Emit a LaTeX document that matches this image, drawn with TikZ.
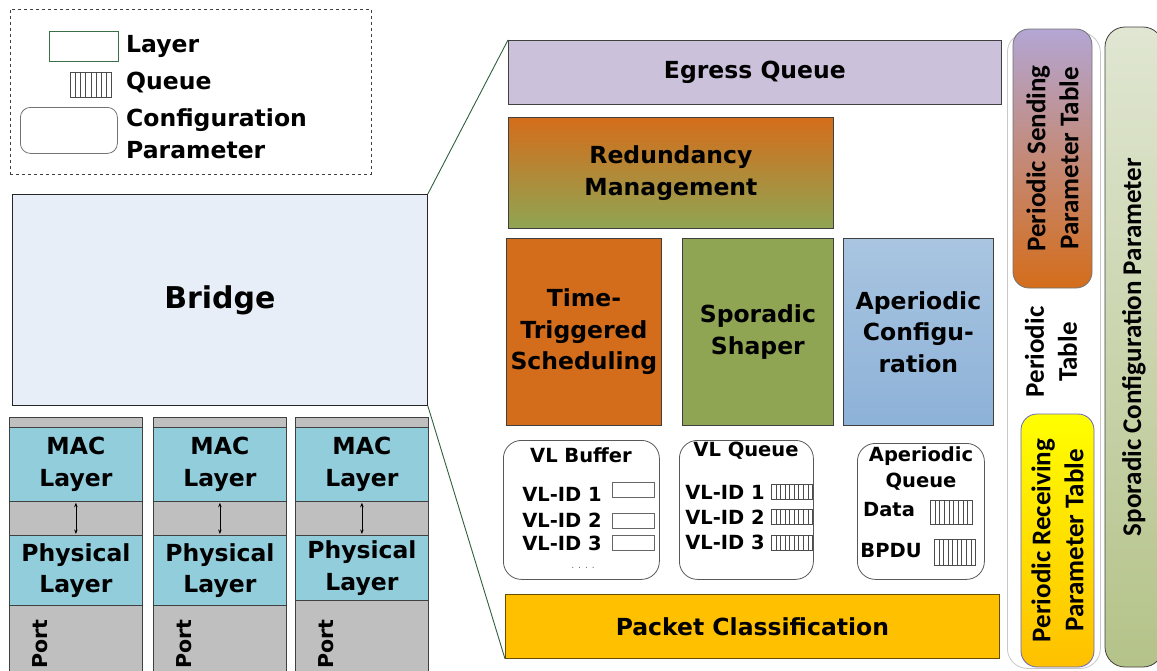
\documentclass[tikz,border=0pt]{standalone}
\usepackage{fontspec}
\setmainfont{DejaVu Sans}
\newfontfamily\calfont{Carlito}
\usetikzlibrary{calc,arrows.meta}

\definecolor{edgegray}{HTML}{404040}
\definecolor{bridgeblue}{HTML}{E7EEF8}
\definecolor{legendgreen}{HTML}{3C6E47}
\definecolor{cellgray}{HTML}{BFBFBF}
\definecolor{maccyan}{HTML}{92CDDC}
\definecolor{egresslav}{HTML}{CCC1DA}
\definecolor{ttorange}{HTML}{D46D1B}
\definecolor{olive}{HTML}{8FA553}
\definecolor{apblue1}{HTML}{A9C5E0}
\definecolor{apblue2}{HTML}{8DB2D8}
\definecolor{pktyellow}{HTML}{FFC000}
\definecolor{sendlav}{HTML}{B3A6D4}
\definecolor{spor1}{HTML}{E0E6D2}
\definecolor{spor2}{HTML}{B4C389}
\definecolor{connectgreen}{HTML}{2F5F3F}
\definecolor{framegray}{HTML}{C8C8C8}

\newcommand\bigtxt{\bfseries\fontsize{23.5}{31.5}\selectfont}
\newcommand\lgtxtfont{\bfseries\fontsize{23.5}{32}\selectfont}
\newcommand\smalltxt{\bfseries\fontsize{19.5}{26}\selectfont}
\newcommand\vtxtfont{\calfont\bfseries\fontsize{27}{33}\selectfont}

\begin{document}
\begin{tikzpicture}[x=1pt,y=-1pt,
  blk/.style={draw=edgegray, line width=0.8pt, anchor=north west, inner sep=0pt,
    align=center, font=\bigtxt},
  cell/.style={blk, minimum width=133},
  cfgbox/.style={draw=black!65, line width=0.8pt, fill=white, rounded corners=18,
    anchor=north west, inner sep=0pt},
  lgtxt/.style={font=\lgtxtfont, inner sep=0pt, anchor=west, align=left},
  stxt/.style={font=\smalltxt, inner sep=0pt, align=center},
  bufrect/.style={draw=black!60, line width=0.6pt, fill=white, anchor=north west,
    inner sep=0pt, minimum width=42, minimum height=15},
  qicon/.style={draw=black!70, line width=0.6pt, fill=white, anchor=north west, inner sep=0pt,
    path picture={\foreach \k in {1,...,#1}{
      \draw[black!70, line width=0.5pt]
        ($(path picture bounding box.north west)!{\k/(#1+1)}!(path picture bounding box.north east)$) --
        ($(path picture bounding box.south west)!{\k/(#1+1)}!(path picture bounding box.south east)$);}}},
  vtab/.style={draw=edgegray, line width=0.8pt, rounded corners=16, rotate=90,
    inner sep=0pt, align=center, font=\vtxtfont},
  conn/.style={draw=connectgreen, line width=0.9pt},
  updown/.style={<->, >={Stealth[length=4.5pt,width=3.5pt]}, line width=0.7pt, shorten <=1pt, shorten >=1pt}
]
\useasboundingbox (0,0) rectangle (1157,670);

% ---------- legend ----------
\node[draw=black!75, dashed, line width=0.7pt, anchor=north west, inner sep=0pt,
  minimum width=361, minimum height=165] (legend) at (10,9) {};
\node[draw=legendgreen, fill=white, line width=0.8pt, anchor=north west, inner sep=0pt,
  minimum width=69, minimum height=30] (lglayer) at (49,31) {};
\node[lgtxt] (lglayertxt) at (126,46) {Layer};
\node[qicon=7, minimum width=41, minimum height=25] (lgqueue) at (70,72) {};
\node[lgtxt] (lgqueuetxt) at (126,82) {Queue};
\node[cfgbox, draw=black!55, rounded corners=10, minimum width=97, minimum height=46] (lgconf) at (20,107) {};
\node[lgtxt] (lgconftxt) at (126,134) {Configuration\\Parameter};

% ---------- bridge and its ports ----------
\node[blk, draw=black!85, fill=bridgeblue, minimum width=415, minimum height=211,
  font=\bfseries\fontsize{30}{36}\selectfont] (bridge) at (12,194) {Bridge};

\foreach \i/\x/\ph in {1/9/70, 2/153/70, 3/295/65}{
  \node[cell, fill=cellgray, minimum height=10] (strip\i) at (\x,417) {};
  \node[cell, fill=maccyan, minimum height=74] (mac\i) at (\x,427) {MAC\\Layer};
  \node[cell, fill=cellgray, minimum height=34] (gap\i) at (\x,501) {};
  \node[cell, fill=maccyan, minimum height=\ph] (phy\i) at (\x,535) {Physical\\Layer};
  \node[cell, fill=cellgray, minimum height=80, anchor=north] (port\i) at ({\x+66.5},{535+\ph}) {};
  \node[rotate=90, font=\bfseries\fontsize{20.5}{24}\selectfont, inner sep=0pt] (porttxt\i) at ({\x+31},644) {Port};
  \draw[updown] (mac\i.south) -- (phy\i.north);
}

% ---------- bridge internals ----------
\node[blk, fill=egresslav, minimum width=493, minimum height=64] (egress) at (508,40) {Egress Queue};
\node[blk, top color=ttorange, bottom color=olive, minimum width=325, minimum height=111]
  (redund) at (508,117) {Redundancy\\Management};
\node[blk, fill=ttorange, minimum width=155, minimum height=187] (tts) at (506,238)
  {Time-\\Triggered\\Scheduling};
\node[blk, fill=olive, minimum width=151, minimum height=187] (shaper) at (682,238)
  {Sporadic\\Shaper};
\node[blk, top color=apblue1, bottom color=apblue2, minimum width=150, minimum height=187]
  (apconf) at (843,238) {Aperiodic\\Configu-\\ration};

% VL buffer
\node[cfgbox, minimum width=156, minimum height=139] (vlbuf) at (503,440) {};
\node[stxt] (vlbuftxt) at (581,455) {VL Buffer};
\node[stxt] (bid1) at (562,494) {VL-ID 1};
\node[stxt] (bid2) at (562,520) {VL-ID 2};
\node[stxt] (bid3) at (562,543) {VL-ID 3};
\node[bufrect] (buf1) at (612,482) {};
\node[bufrect] (buf2) at (612,513) {};
\node[bufrect] (buf3) at (612,535) {};
\node[font=\fontsize{9}{9}\selectfont, text=black!60, inner sep=0pt] (bufdots) at (583,568) {.\hspace{4pt}.\hspace{4pt}.\hspace{4pt}.};

% VL queue
\node[cfgbox, minimum width=134, minimum height=139] (vlq) at (679,440) {};
\node[stxt] (vlqtxt) at (746,451) {VL Queue};
\node[stxt] (qid1) at (725,492) {VL-ID 1};
\node[stxt] (qid2) at (725,517) {VL-ID 2};
\node[stxt] (qid3) at (725,542) {VL-ID 3};
\node[qicon=8, minimum width=41, minimum height=15] (vq1) at (771,484) {};
\node[qicon=8, minimum width=41, minimum height=15] (vq2) at (771,509) {};
\node[qicon=8, minimum width=41, minimum height=15] (vq3) at (771,535) {};

% aperiodic queue
\node[cfgbox, minimum width=127, minimum height=136] (apq) at (857,443) {};
\node[stxt] (apqtxt) at (921,469) {Aperiodic\\Queue};
\node[stxt] (datatxt) at (889,510) {Data};
\node[qicon=8, minimum width=42, minimum height=24] (dataq) at (930,500) {};
\node[stxt] (bpdutxt) at (891,551) {BPDU};
\node[qicon=8, minimum width=41, minimum height=26] (bpduq) at (934,539) {};

\node[blk, draw=black!60!pktyellow, fill=pktyellow, minimum width=494, minimum height=64]
  (packet) at (505,594) {Packet Classification};

% ---------- zoom connectors ----------
\draw[conn] (bridge.north east) -- (egress.north west);
\draw[conn] (bridge.south east) -- (packet.south west);

% ---------- parameter tables ----------
\node[draw=framegray, line width=0.8pt, fill=white, rounded corners=20, anchor=north west,
  inner sep=0pt, minimum width=93, minimum height=636] (ptframe) at (1007,32) {};
\node[vtab, draw=black!55, top color=sendlav, bottom color=ttorange,
  minimum width=259, minimum height=79] (sendtab) at (1052.5,158.5)
  {Periodic Sending\\Parameter Table};
\node[rotate=90, font=\vtxtfont, align=center, inner sep=0pt] (ptlabel) at (1051,352)
  {Periodic\\Table};
\node[vtab, draw=black!40!blue!60, top color=yellow, bottom color=pktyellow,
  minimum width=253, minimum height=73] (recvtab) at (1057.5,540.5)
  {Periodic Receiving\\Parameter Table};
\node[vtab, top color=spor1, bottom color=spor2, rounded corners=20,
  minimum width=640, minimum height=58] (sporcfg) at (1134,347)
  {Sporadic Configuration Parameter};
\end{tikzpicture}
\end{document}
